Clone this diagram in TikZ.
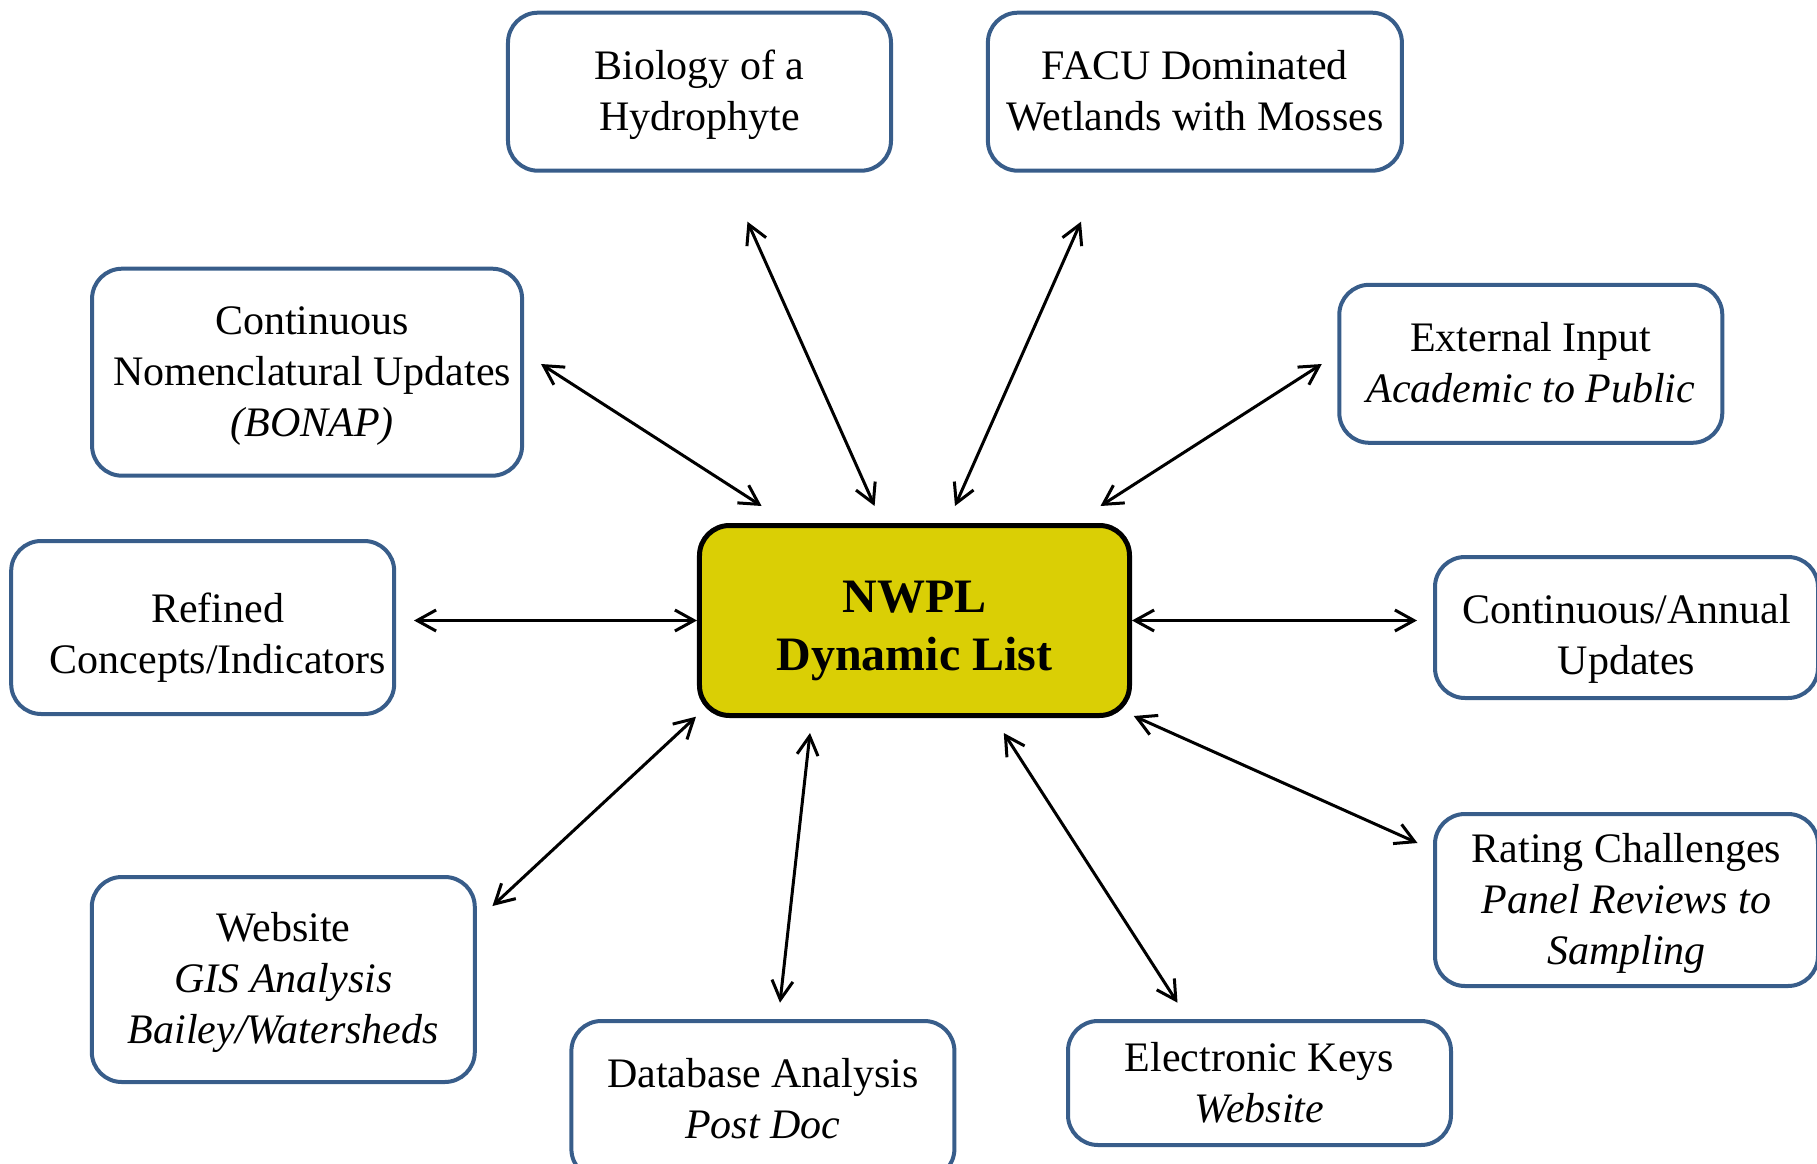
\documentclass[tikz,border=0pt]{standalone}
\usepackage{fontspec}
\setmainfont{Liberation Serif}
\usetikzlibrary{positioning,arrows.meta}
\definecolor{boxblue}{RGB}{56,93,138}
\definecolor{listyellow}{RGB}{218,207,5}

\begin{document}
\begin{tikzpicture}[x=1pt, y=1pt, on grid,
    leaf/.style = {draw=boxblue, line width=4pt, rounded corners=30pt, align=center,
                   minimum width=383pt, minimum height=158pt, inner sep=4pt,
                   font=\fontsize{42}{51}\selectfont, text height=78pt, text depth=0pt},
    leaf3/.style = {leaf, text height=128pt},
    hub/.style = {draw, line width=5pt, fill=listyellow, rounded corners=30pt, align=center,
                  minimum width=430pt, minimum height=190pt, inner sep=4pt,
                  font=\fontsize{48}{58}\selectfont\bfseries, text height=99pt, text depth=0pt},
    link/.style = {{Straight Barb[length=19pt,width=21pt]}-{Straight Barb[length=19pt,width=21pt]},
                   line width=3pt}]
    \useasboundingbox (-914.5,-542.5) rectangle (902.5,620.5);

    \node[hub] (0) {NWPL\\Dynamic List};
    \node[leaf] (1) [above left=528.8pt and 215pt of 0] {Biology of a\\Hydrophyte};
    \node[leaf, minimum width=414pt] (2) [above right=528.8pt and 280.4pt of 0] {FACU Dominated\\Wetlands with Mosses};
    \node[leaf3, minimum width=430pt, minimum height=207pt] (3) [above left=248.3pt and 607.4pt of 0] {\hspace*{10pt}Continuous\\\hspace*{10pt}Nomenclatural Updates\\\hspace*{10pt}\textit{(BONAP)}};
    \node[leaf] (4) [above right=256.7pt and 616.3pt of 0] {External Input\\\textit{Academic to Public}};
    \node[leaf, minimum height=173pt, text height=91pt] (5) [below left=7pt and 711.8pt of 0] {\hspace*{30pt}Refined\\\hspace*{30pt}Concepts/Indicators};
    \node[leaf, minimum height=141pt, text height=94pt] (6) [below right=7pt and 712pt of 0] {Continuous/Annual\\Updates};
    \node[leaf3, minimum height=172pt] (7) [below right=279.5pt and 712pt of 0] {Rating Challenges\\\textit{Panel Reviews to}\\\textit{Sampling}};
    \node[leaf3, minimum height=205pt] (8) [below left=359pt and 631.2pt of 0] {Website\\\textit{GIS Analysis}\\\textit{Bailey/Watersheds}};
    \node[leaf, text height=76pt] (9) [below left=479.5pt and 151.6pt of 0] {Database Analysis\\\textit{Post Doc}};
    \node[leaf, minimum height=124pt] (10) [below right=462.5pt and 345pt of 0] {Electronic Keys\\\textit{Website}};

    \draw[link] ([shift={(48,-130)}]1.center) -- ([shift={(-39.9,114.5)}]0.center);
    \draw[link] ([shift={(-113.9,-130)}]2.center) -- ([shift={(40.5,114.5)}]0.center);
    \draw[link] ([shift={(233.9,8.2)}]3.center) -- ([shift={(-152.9,114.5)}]0.center);
    \draw[link] ([shift={(-209,-0.2)}]4.center) -- ([shift={(186,114.5)}]0.center);
    \draw[link] ([shift={(211.3,7)}]5.center) -- (0.west);
    \draw[link] ([shift={(-209.5,7)}]6.center) -- (0.east);
    \draw[link] ([shift={(-209,57)}]7.center) -- ([shift={(219.3,-95.5)}]0.center);
    \draw[link] ([shift={(209.2,73.5)}]8.center) -- ([shift={(-218.5,-96.2)}]0.center);
    \draw[link] ([shift={(17.1,97.3)}]9.center) -- ([shift={(-104.5,-112.5)}]0.center);
    \draw[link] ([shift={(-82,80.3)}]10.center) -- ([shift={(89.3,-112.5)}]0.center);
    \end{tikzpicture}
\end{document}
